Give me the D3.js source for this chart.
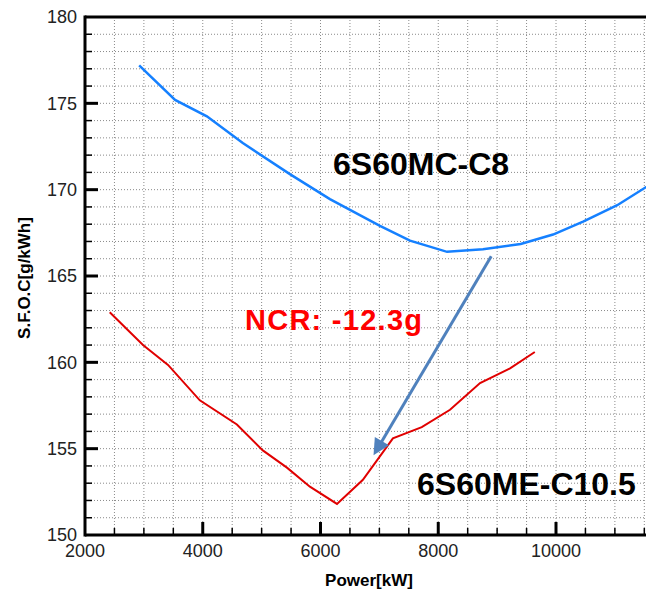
<!DOCTYPE html>
<html>
<head>
<meta charset="utf-8">
<script src="https://cdn.jsdelivr.net/npm/d3@7"></script>
<style>
  body { margin: 0; background: #fff; }
  svg { display: block; font-family: "Liberation Sans", Arial, sans-serif; }
</style>
</head>
<body>
<div id="chart-area"></div>
<script>
// data
const mcPower = [2920, 3530, 4070, 4680, 5480, 6160, 7010, 7520, 8150, 8760, 9400, 9950, 10460, 11040, 11600];
const mcSfoc  = [177.2, 175.2, 174.25, 172.7, 170.9, 169.45, 167.9, 167.05, 166.4, 166.55, 166.85, 167.4, 168.15, 169.1, 170.3];

const mePower = [2420, 2985, 3410, 3950, 4580, 5020, 5430, 5820, 6280, 6720, 7230, 7720, 8200, 8710, 9220, 9640];
const meSfoc  = [162.9, 161.0, 159.85, 157.8, 156.4, 154.9, 153.9, 152.8, 151.8, 153.2, 155.6, 156.25, 157.25, 158.8, 159.65, 160.6];

const xTicks = [2000, 4000, 6000, 8000, 10000];
const yTicks = [150, 155, 160, 165, 170, 175, 180];
const arrowFrom = [8900, 166.15];
const arrowTo = [6930, 154.75];

const width = 646, height = 592;
const plotLeft = 85, plotTop = 17, plotBottom = 535;

const svg = d3.select('#chart-area').append('svg')
  .attr('width', width)
  .attr('height', height);

const x = d3.scaleLinear().domain([2000, 11600]).range([plotLeft, plotLeft + 9.6 * 58.875]);
const y = d3.scaleLinear().domain([150, 180]).range([plotBottom, plotTop]);

const defs = svg.append('defs');
defs.append('clipPath').attr('id', 'plot')
  .append('rect')
  .attr('x', plotLeft).attr('y', plotTop)
  .attr('width', width - plotLeft).attr('height', plotBottom - plotTop);

// dotted grid every 500 kW and every 1 g/kWh
const xMinor = d3.range(2500, 11600, 500);
const yMinor = d3.range(151, 180, 1);

svg.append('g').selectAll('line')
  .data(xMinor)
  .enter().append('line')
  .attr('x1', d => x(d)).attr('x2', d => x(d))
  .attr('y1', plotTop).attr('y2', plotBottom)
  .attr('stroke', '#8a8a8a')
  .attr('stroke-width', 1)
  .attr('stroke-dasharray', '1,2');

svg.append('g').selectAll('line')
  .data(yMinor)
  .enter().append('line')
  .attr('x1', plotLeft).attr('x2', width)
  .attr('y1', d => y(d)).attr('y2', d => y(d))
  .attr('stroke', '#8a8a8a')
  .attr('stroke-width', 1)
  .attr('stroke-dasharray', '1,2');

// minor ticks (inward)
svg.append('g').selectAll('line')
  .data(xMinor.filter(d => d % 2000 !== 0))
  .enter().append('line')
  .attr('x1', d => x(d)).attr('x2', d => x(d))
  .attr('y1', plotBottom).attr('y2', plotBottom - 7)
  .attr('stroke', '#000').attr('stroke-width', 1.5);

svg.append('g').selectAll('line')
  .data(yMinor.filter(d => d % 5 !== 0))
  .enter().append('line')
  .attr('x1', plotLeft).attr('x2', plotLeft + 7)
  .attr('y1', d => y(d)).attr('y2', d => y(d))
  .attr('stroke', '#000').attr('stroke-width', 1.5);

// major ticks
svg.append('g').selectAll('line')
  .data(xTicks.slice(1))
  .enter().append('line')
  .attr('x1', d => x(d)).attr('x2', d => x(d))
  .attr('y1', plotBottom).attr('y2', plotBottom - 13)
  .attr('stroke', '#000').attr('stroke-width', 3);

svg.append('g').selectAll('line')
  .data(yTicks.slice(1, -1))
  .enter().append('line')
  .attr('x1', plotLeft).attr('x2', plotLeft + 13)
  .attr('y1', d => y(d)).attr('y2', d => y(d))
  .attr('stroke', '#000').attr('stroke-width', 3);

// frame
svg.append('line').attr('x1', plotLeft).attr('x2', width).attr('y1', plotTop).attr('y2', plotTop)
  .attr('stroke', '#000').attr('stroke-width', 3);
svg.append('line').attr('x1', plotLeft).attr('x2', width).attr('y1', plotBottom).attr('y2', plotBottom)
  .attr('stroke', '#000').attr('stroke-width', 3);
svg.append('line').attr('x1', plotLeft).attr('x2', plotLeft).attr('y1', plotTop - 1.5).attr('y2', plotBottom + 1.5)
  .attr('stroke', '#000').attr('stroke-width', 3);

// tick labels
svg.append('g').selectAll('text')
  .data(yTicks)
  .enter().append('text')
  .attr('x', plotLeft - 8)
  .attr('y', d => y(d))
  .attr('dy', '0.36em')
  .attr('text-anchor', 'end')
  .attr('font-size', 18)
  .attr('fill', '#222')
  .text(d => d);

svg.append('g').selectAll('text')
  .data(xTicks)
  .enter().append('text')
  .attr('x', d => x(d))
  .attr('y', 557)
  .attr('text-anchor', 'middle')
  .attr('font-size', 18)
  .attr('fill', '#222')
  .text(d => d);

// axis titles
svg.append('text')
  .attr('x', 369).attr('y', 586)
  .attr('text-anchor', 'middle')
  .attr('font-size', 17)
  .attr('font-weight', 'bold')
  .text('Power[kW]');

svg.append('text')
  .attr('transform', 'translate(30,278) rotate(-90)')
  .attr('text-anchor', 'middle')
  .attr('font-size', 17)
  .attr('font-weight', 'bold')
  .text('S.F.O.C[g/kWh]');

// curves
const line = d3.line()
  .x(d => x(d[0]))
  .y(d => y(d[1]));

const plot = svg.append('g').attr('clip-path', 'url(#plot)');

plot.append('path')
  .datum(d3.zip(mcPower, mcSfoc))
  .attr('d', line)
  .attr('fill', 'none')
  .attr('stroke', '#1580ff')
  .attr('stroke-width', 2.5);

plot.append('path')
  .datum(d3.zip(mePower, meSfoc))
  .attr('d', line)
  .attr('fill', 'none')
  .attr('stroke', '#e00000')
  .attr('stroke-width', 2);

// arrow
defs.append('marker')
  .attr('id', 'head')
  .attr('viewBox', '0 0 10 10')
  .attr('refX', 2).attr('refY', 5)
  .attr('markerWidth', 6).attr('markerHeight', 5.5)
  .attr('markerUnits', 'strokeWidth')
  .attr('orient', 'auto')
  .append('path')
  .attr('d', 'M0,0 L10,5 L0,10 Z')
  .attr('fill', '#4f81bd');

svg.append('line')
  .attr('x1', x(arrowFrom[0])).attr('y1', y(arrowFrom[1]))
  .attr('x2', x(arrowTo[0]) + 5).attr('y2', y(arrowTo[1]) - 9)
  .attr('stroke', '#4f81bd')
  .attr('stroke-width', 3)
  .attr('marker-end', 'url(#head)');

// annotations
svg.append('text')
  .attr('x', 333).attr('y', 175)
  .attr('font-size', 32).attr('font-weight', 'bold')
  .attr('fill', '#000')
  .text('6S60MC-C8');

svg.append('text')
  .attr('x', 245).attr('y', 330)
  .attr('font-size', 29).attr('font-weight', 'bold')
  .attr('fill', '#ff0000')
  .attr('textLength', 177)
  .text('NCR: -12.3g');

svg.append('text')
  .attr('x', 417).attr('y', 495)
  .attr('font-size', 32).attr('font-weight', 'bold')
  .attr('fill', '#000')
  .text('6S60ME-C10.5');
</script>
</body>
</html>
